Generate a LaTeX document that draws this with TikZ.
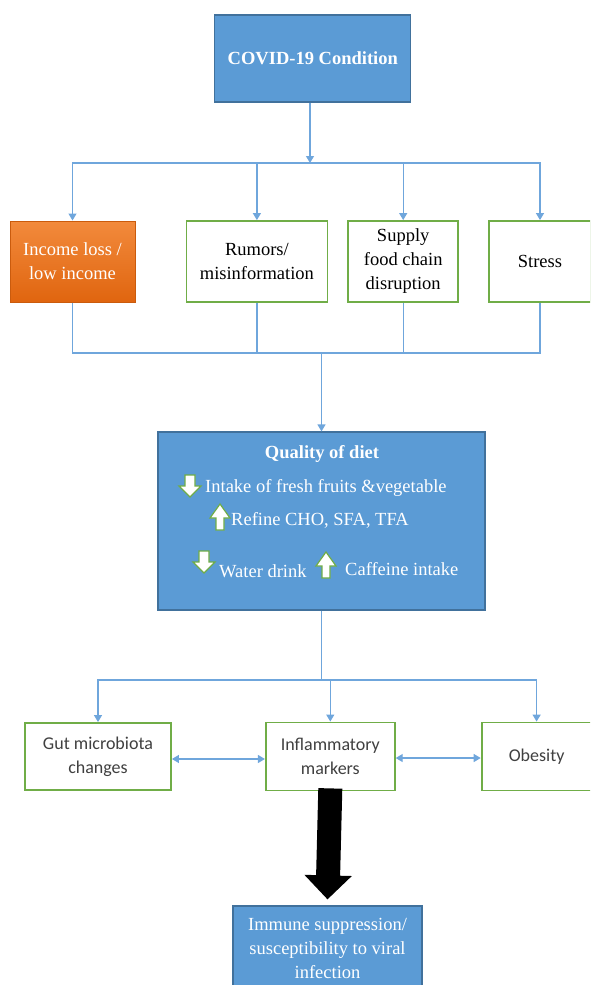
\documentclass[tikz,border=0pt]{standalone}
\usepackage{fontspec}
\setmainfont{Liberation Serif}
\setsansfont{Carlito}
\newfontfamily\diagserif{Liberation Serif}
\newfontfamily\diagsans{Carlito}
\usetikzlibrary{arrows.meta,positioning}

\definecolor{boxblue}{HTML}{5B9BD5}
\definecolor{boxedge}{HTML}{41719C}
\definecolor{linkblue}{HTML}{6FA6DC}
\definecolor{greenedge}{HTML}{70AD47}
\definecolor{orangetop}{HTML}{F28A3C}
\definecolor{orangebot}{HTML}{E0650F}
\definecolor{sanstext}{HTML}{404040}

\tikzset{
  bluebox/.style={draw=boxedge, fill=boxblue, line width=1.2pt, text=white, align=center, inner sep=0pt},
  greenbox/.style={draw=greenedge, fill=white, line width=1.8pt, align=center, inner sep=0pt},
  orangebox/.style={draw=orangebot!90!black, top color=orangetop, bottom color=orangebot, line width=1pt, text=white, align=center, inner sep=0pt},
  seriftext/.style={font=\diagserif\fontsize{18.5}{24}\selectfont},
  boldtext/.style={font=\diagserif\bfseries\fontsize{18.5}{24}\selectfont},
  sanstext/.style={font=\diagsans\fontsize{18}{24}\selectfont, text=sanstext},
  link/.style={draw=linkblue, line width=1.3pt},
  oneway/.style={-{Triangle[width=8pt,length=7pt]}},
  twoway/.style={{Triangle[width=8pt,length=7pt]}-{Triangle[width=8pt,length=7pt]}},
  downmark/.pic={\draw[greenedge, fill=white, line width=1.2pt] (-5,-11) -- (-5,0) -- (-11,0) -- (0,11) -- (11,0) -- (5,0) -- (5,-11) -- cycle;},
  upmark/.pic={\draw[greenedge, fill=white, line width=1.2pt] (-4,13) -- (-4,1) -- (-10,1) -- (0,-13) -- (10,1) -- (4,1) -- (4,13) -- cycle;},
}

\begin{document}
\begin{tikzpicture}[x=1pt,y=-1pt]
    \useasboundingbox (0,0) rectangle (590,985);
    \clip (0,0) rectangle (590,985);

    % top of the tree
    \node[bluebox, boldtext, minimum width=196pt, minimum height=87pt] (covid) at (312.8,58.5) {COVID-19 Condition};

    \node[orangebox, seriftext, minimum width=125pt, minimum height=81pt] (income) at (72.5,261.5) {Income loss /\\low income};
    \node[greenbox, seriftext, minimum width=141pt, minimum height=81pt] (rumors) [right=50pt of income] {Rumors/\\misinformation};
    \node[greenbox, seriftext, minimum width=110pt, minimum height=81pt] (supply) [right=19pt of rumors] {Supply\\food chain\\disruption};
    \node[greenbox, seriftext, minimum width=102pt, minimum height=81pt] (stress) [right=29pt of supply] {Stress};

    \coordinate (topsplit) at (310,163);
    \coordinate (midjoin) at (321.5,353);
    \draw[link, oneway] (covid.south -| topsplit) -- (topsplit);
    \foreach \b in {income,rumors,supply,stress}
        \draw[link, oneway] (topsplit) -| (\b.north);
    \foreach \b in {income,rumors,supply,stress}
        \draw[link] (\b.south) |- (midjoin);

    % diet box
    \node[bluebox, minimum width=327pt, minimum height=178pt] (quality) at (321.5,521) {};
    \node[boldtext, text=white] (qtitle) at (322,454) {Quality of diet};
    \pic (mark1) at (190,486) {downmark};
    \node[seriftext, text=white, anchor=west, inner sep=0pt] (fruits) at (205,488) {Intake of fresh fruits \&vegetable};
    \pic (mark2) at (220,517) {upmark};
    \node[seriftext, text=white, anchor=west, inner sep=0pt] (refine) at (231,520) {Refine CHO, SFA, TFA};
    \pic (mark3) at (204,562) {downmark};
    \node[seriftext, text=white, anchor=west, inner sep=0pt] (water) at (219,571) {Water drink};
    \pic (mark4) at (326,565) {upmark};
    \node[seriftext, text=white, anchor=west, inner sep=0pt] (caffeine) at (345,569) {Caffeine intake};
    \draw[link, oneway] (midjoin) -- (quality.north);

    % effects
    \node[greenbox, sanstext, minimum width=146pt, minimum height=67pt] (gut) at (98,756.5) {Gut microbiota\\changes};
    \node[greenbox, sanstext, minimum width=129pt, minimum height=68pt] (infl) [right=93pt of gut] {Inflammatory\\markers};
    \node[greenbox, sanstext, minimum width=110pt, minimum height=68pt] (obesity) [right=85pt of infl] {Obesity};

    \coordinate (lowsplit) at (321.5,680);
    \draw[link] (quality.south) -- (lowsplit);
    \foreach \b in {gut,infl,obesity}
        \draw[link, oneway] (lowsplit) -| (\b.north);
    \draw[link, twoway] ([yshift=-2.5pt]gut.east) -- ([yshift=-2.5pt]infl.west);
    \draw[link, twoway] ([yshift=-1.5pt]infl.east) -- ([yshift=-1.5pt]obesity.west);

    % outcome
    \node[bluebox, seriftext, minimum width=189pt, minimum height=84pt] (immune) at (327.5,948) {Immune suppression/\\susceptibility to viral\\infection};
    \draw[line width=24pt, -{Triangle[width=46pt,length=24pt]}] ([yshift=3pt]infl.south) -- ([yshift=6pt]immune.north);
\end{tikzpicture}
\end{document}
